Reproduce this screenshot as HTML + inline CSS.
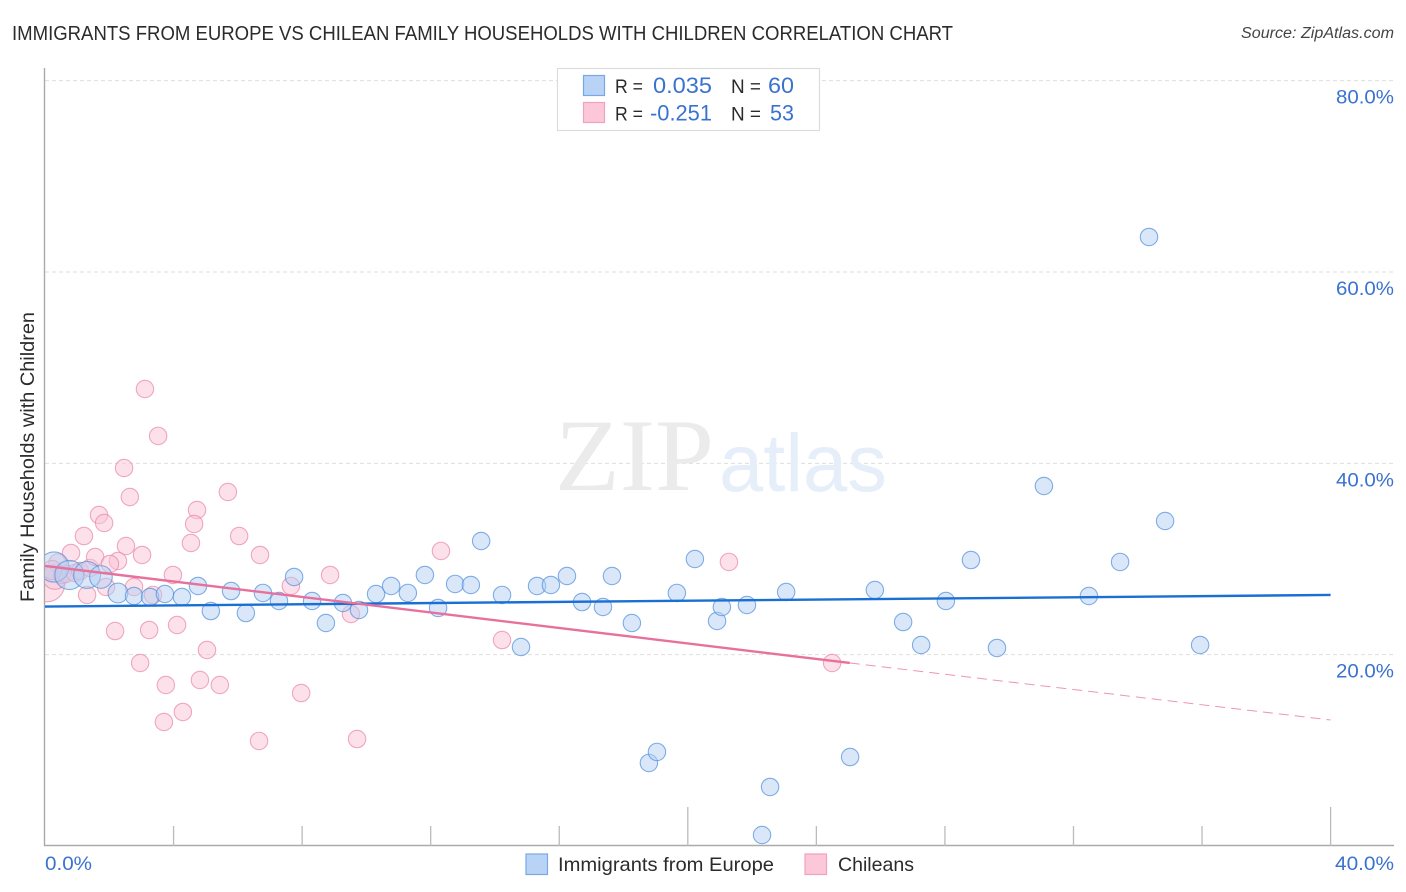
<!DOCTYPE html>
<html lang="en">
<head>
<meta charset="utf-8">
<title>Immigrants from Europe vs Chilean Family Households with Children Correlation Chart</title>
<style>
html,body{margin:0;padding:0;background:#fff;width:1406px;height:892px;overflow:hidden}
svg{display:block;font-family:"Liberation Sans",sans-serif}
</style>
</head>
<body>
<svg id="chart" xmlns="http://www.w3.org/2000/svg" width="1406" height="892" viewBox="0 0 1406 892">
  <defs>
    <clipPath id="plot-clip"><rect x="45" y="60" width="1349" height="786"/></clipPath>
  </defs>
  <text x="12" y="40" font-size="20" fill="#2b2b2b" textLength="941" lengthAdjust="spacingAndGlyphs">IMMIGRANTS FROM EUROPE VS CHILEAN FAMILY HOUSEHOLDS WITH CHILDREN CORRELATION CHART</text>
  <text x="1241" y="38" font-size="15.5" font-style="italic" fill="#444" textLength="153" lengthAdjust="spacingAndGlyphs">Source: ZipAtlas.com</text>

  <g id="grid"></g>

  <g>
    <text x="555" y="490" font-family="'Liberation Serif',serif" font-size="103" fill="#ebebeb" textLength="159" lengthAdjust="spacingAndGlyphs">ZIP</text>
    <text x="719" y="491" font-size="82" fill="#e6eff9" textLength="168" lengthAdjust="spacingAndGlyphs">atlas</text>
  </g>

  <g id="axes"></g>
  <g id="points-pink" clip-path="url(#plot-clip)"></g>
  <g id="points-blue" clip-path="url(#plot-clip)"></g>
  <g id="trends"></g>
  <g id="labels"></g>

  <text transform="translate(34,457) rotate(-90)" font-size="19.5" fill="#2b2b2b" text-anchor="middle" textLength="290" lengthAdjust="spacingAndGlyphs">Family Households with Children</text>

  <g>
    <rect x="557.5" y="68.5" width="262" height="62" fill="#fff" stroke="#dcdcdc" stroke-width="1.2"/>
    <rect x="583.5" y="75.5" width="21" height="20" fill="#b9d3f6" stroke="#78a9e4" stroke-width="1.2"/>
    <rect x="583.5" y="102.5" width="21" height="20" fill="#fcc8d9" stroke="#f3a0ba" stroke-width="1.2"/>
    <text x="615" y="93" font-size="19" fill="#2b2b2b" textLength="28" lengthAdjust="spacingAndGlyphs">R =</text>
    <text x="653" y="93" font-size="22" fill="#3a72cf" textLength="59" lengthAdjust="spacingAndGlyphs">0.035</text>
    <text x="731" y="93" font-size="19" fill="#2b2b2b" textLength="30" lengthAdjust="spacingAndGlyphs">N =</text>
    <text x="768" y="93" font-size="22" fill="#3a72cf" textLength="26" lengthAdjust="spacingAndGlyphs">60</text>
    <text x="615" y="120.5" font-size="19" fill="#2b2b2b" textLength="28" lengthAdjust="spacingAndGlyphs">R =</text>
    <text x="650" y="120.5" font-size="22" fill="#3a72cf" textLength="62" lengthAdjust="spacingAndGlyphs">-0.251</text>
    <text x="731" y="120.5" font-size="19" fill="#2b2b2b" textLength="30" lengthAdjust="spacingAndGlyphs">N =</text>
    <text x="770" y="120.5" font-size="22" fill="#3a72cf" textLength="24" lengthAdjust="spacingAndGlyphs">53</text>
  </g>

  <g>
    <rect x="526" y="854" width="21.5" height="20.5" fill="#b9d3f6" stroke="#78a9e4" stroke-width="1.2"/>
    <text x="558" y="871" font-size="19.5" fill="#2b2b2b" textLength="216" lengthAdjust="spacingAndGlyphs">Immigrants from Europe</text>
    <rect x="805" y="854" width="21.5" height="20.5" fill="#fcc8d9" stroke="#f3a0ba" stroke-width="1.2"/>
    <text x="838" y="871" font-size="19.5" fill="#2b2b2b" textLength="76" lengthAdjust="spacingAndGlyphs">Chileans</text>
  </g>
</svg>
<script>
const yTickValues = [20, 40, 60, 80];
const yTickLabels = ['20.0%', '40.0%', '60.0%', '80.0%'];
const xTickValues = [4, 8, 12, 16, 20, 24, 28, 32, 36, 40];
const xMajorTicks = [20, 40];
const xEndValues = [0, 40];
const xEndLabels = ['0.0%', '40.0%'];

const blueX = [0.28,0.76,1.31,1.74,2.27,2.77,3.27,3.73,4.26,4.76,5.16,5.79,6.25,6.78,7.28,7.75,8.31,8.74,9.27,9.77,10.30,10.77,11.29,11.82,12.23,12.76,13.25,13.57,14.22,14.81,15.31,15.74,16.24,16.71,17.36,17.64,18.26,18.79,19.04,19.66,20.22,20.91,21.06,21.84,22.31,22.56,23.06,25.05,25.82,26.70,27.26,28.03,28.81,29.62,31.08,32.48,33.45,34.35,34.85,35.94];
const blueY = [29.16,28.33,28.33,28.12,26.45,26.13,26.03,26.34,26.03,27.18,24.56,26.65,24.35,26.45,25.61,28.12,25.61,23.31,25.40,24.67,26.34,27.18,26.45,28.33,24.88,27.39,27.28,31.88,26.24,20.80,27.18,27.28,28.22,25.50,24.98,28.22,23.31,8.68,9.83,26.45,30.00,23.52,24.98,25.19,1.15,6.17,26.55,9.30,26.76,23.41,21.01,25.61,29.89,20.70,37.63,26.13,29.69,63.66,33.97,21.01];
const bluePopulation = [3,2.8,2.4,1.7,1.3];

const pinkX = [0.06,0.31,0.40,0.53,0.65,0.93,1.09,1.40,0.22,1.68,1.84,1.21,0.81,1.56,2.52,3.02,2.27,2.02,2.64,4.73,4.64,4.54,6.04,6.69,3.98,7.65,2.77,3.36,1.31,1.90,2.18,3.24,4.11,5.04,2.96,3.76,4.82,5.44,7.97,4.29,3.70,6.66,3.11,3.52,2.46,5.69,8.87,9.52,12.32,14.22,21.28,24.49,9.71];
const pinkY = [27.39,28.12,29.58,28.33,28.43,28.54,28.74,29.06,28.85,34.60,33.76,32.40,30.63,30.21,31.36,30.42,29.79,29.48,36.48,35.12,33.66,31.67,32.40,30.42,28.33,27.18,27.07,26.24,26.24,27.07,22.47,22.58,23.10,20.49,19.13,16.83,17.35,16.83,15.99,14.01,12.96,10.98,47.77,42.86,39.51,37.00,28.33,24.25,30.84,21.53,29.69,19.13,11.18];
const pinkPopulation = [4.2,2,1.1,1,1,1,1,1,1.2];

const blueTrendX = [0, 40];
const blueTrendY = [25.03, 26.24];
const pinkTrendX = [0, 25.04];
const pinkTrendY = [29.27, 19.13];
const pinkDashX = [25.04, 40];
const pinkDashY = [19.13, 13.17];

const NS = 'http://www.w3.org/2000/svg';
const sx = v => 45 + v * 32.14;
const sy = v => 846 - v * 9.567;
const radius = p => 8.7 * Math.sqrt(p);

function make(tag, parentId, attrs) {
  const el = document.createElementNS(NS, tag);
  for (const k in attrs) el.setAttribute(k, attrs[k]);
  document.getElementById(parentId).appendChild(el);
  return el;
}

yTickValues.forEach(v => {
  const line = make('line', 'grid', {x1: 45, x2: 1394, y1: sy(v), y2: sy(v), stroke: '#dedede', 'stroke-width': 1, 'stroke-dasharray': '4 3'});
  
  
});

const yAxis = make('line', 'axes', {x1: 44.5, x2: 44.5, y1: 68, y2: 846, stroke: '#aaa', 'stroke-width': 1.4});


const xAxis = make('line', 'axes', {x1: 44, x2: 1394, y1: 845.5, y2: 845.5, stroke: '#aaa', 'stroke-width': 1.4});



xTickValues.forEach(v => {
  const top = xMajorTicks.includes(v) ? 807 : 826;
  const tick = make('line', 'axes', {x1: sx(v), x2: sx(v), y1: top, y2: 846, stroke: '#bbb', 'stroke-width': 1.3});
  
  
});

function drawPoints(parentId, xs, ys, pops, fill, stroke, name) {
  xs.forEach((x, i) => {
    const p = pops[i] === undefined ? 1 : pops[i];
    const c = make('circle', parentId, {cx: sx(x), cy: sy(ys[i]), r: radius(p), fill: fill, 'fill-opacity': 0.5, stroke: stroke, 'stroke-opacity': 0.7, 'stroke-width': 1.1});
    
    
  });
}
drawPoints('points-pink', pinkX, pinkY, pinkPopulation, '#f9c4d5', '#ea86a6', 'chileans-point');
drawPoints('points-blue', blueX, blueY, bluePopulation, '#b4cff3', '#4f8edc', 'immigrants-point');

const blueLine = make('line', 'trends', {x1: sx(blueTrendX[0]), y1: sy(blueTrendY[0]), x2: sx(blueTrendX[1]), y2: sy(blueTrendY[1]), stroke: '#1a6fd4', 'stroke-width': 2.4});


const pinkLine = make('line', 'trends', {x1: sx(pinkTrendX[0]), y1: sy(pinkTrendY[0]), x2: sx(pinkTrendX[1]), y2: sy(pinkTrendY[1]), stroke: '#e8709c', 'stroke-width': 2.4});


const pinkDash = make('line', 'trends', {x1: sx(pinkDashX[0]), y1: sy(pinkDashY[0]), x2: sx(pinkDashX[1]), y2: sy(pinkDashY[1]), stroke: '#e8709c', 'stroke-width': 1, 'stroke-dasharray': '10 6', 'stroke-opacity': 0.75});



yTickValues.forEach((v, i) => {
  const t = make('text', 'labels', {x: 1336, y: sy(v) + 23, 'font-size': 19.5, fill: '#3a72cf', textLength: 58, lengthAdjust: 'spacingAndGlyphs'});
  
  
  t.textContent = yTickLabels[i];
});
xEndValues.forEach((v, i) => {
  const first = i === 0;
  const t = make('text', 'labels', {x: first ? sx(v) : 1335, y: 870, 'font-size': 19.5, fill: '#3a72cf', textLength: first ? 47 : 59, lengthAdjust: 'spacingAndGlyphs'});
  
  
  t.textContent = xEndLabels[i];
});
</script>
</body>
</html>
